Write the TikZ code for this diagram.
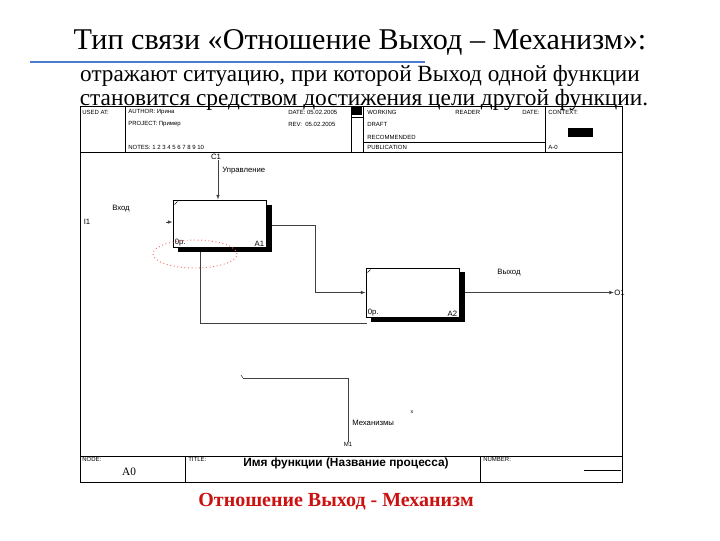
\documentclass[tikz,border=0pt]{standalone}
\usepackage{fontspec}
\setmainfont{Liberation Serif}
\newfontfamily\dsans{Liberation Sans}
\usetikzlibrary{arrows.meta,shapes.geometric}
\definecolor{bline}{HTML}{4A7CD6}
\definecolor{tred}{HTML}{CC1111}
\begin{document}
\begin{tikzpicture}[x=0.75pt,y=-0.75pt,
  hdr/.style={font=\dsans\fontsize{4.5}{5}\selectfont, anchor=west, inner sep=0},
  lbl/.style={font=\dsans\fontsize{5.8}{7}\selectfont, inner sep=0},
  fn/.style={draw, fill=white, line width=0.7pt, minimum width=69.75pt, inner sep=0},
  con/.style={draw=black!75, line width=0.45pt},
  arr/.style={con, -{Latex[length=3.5pt,width=2.6pt]}},
  frm/.style={line width=0.7pt}]
\useasboundingbox (0,0) rectangle (720,540);
% title
\node[font=\fontsize{22.6}{26}\selectfont] (title) at (360,42) {Тип связи «Отношение Выход – Механизм»:};
\coordinate (bl1) at (30,62); \coordinate (bl2) at (425,62);
\draw[bline, line width=2.2pt] (bl1) -- (bl2);
\node[font=\fontsize{17.4}{19}\selectfont] (s1) at (360,76) {отражают ситуацию, при которой Выход одной функции};
\node[font=\fontsize{17.5}{19}\selectfont] (s2) at (364,100) {становится средством достижения цели другой функции.};
% frame
\draw[frm] (80,106) rectangle (622,482);
% header
\draw[frm] (80,152) -- (622,152);
\draw[frm] (125,106) -- (125,152);
\draw[frm] (351,106) -- (351,152);
\draw[frm] (363,106) -- (363,152);
\draw[frm] (545,106) -- (545,152);
\draw[frm] (363,142) -- (545,142);
\draw[frm] (351,117) -- (363,117);
\fill (352,107) rectangle (362,115);
\fill (568,128) rectangle (593,137);
\node[hdr] (h1) at (82,112) {USED AT:};
\node[hdr] (h2) at (128,112) {AUTHOR: Ирина};
\node[hdr] (h3) at (128,124) {PROJECT: Пример};
\node[hdr] (h4) at (128,147) {NOTES:\ 1\ 2\ 3\ 4\ 5\ 6\ 7\ 8\ 9\ 10};
\node[hdr] (h5) at (288,112) {DATE: 05.02.2005};
\node[hdr] (h6) at (288,124) {REV:\ \ 05.02.2005};
\node[hdr] (h7) at (367,112) {WORKING};
\node[hdr] (h8) at (367,124) {DRAFT};
\node[hdr] (h9) at (367,137) {RECOMMENDED};
\node[hdr] (h10) at (367,147) {PUBLICATION};
\node[hdr] (h11) at (455,112) {READER};
\node[hdr] (h12) at (522,112) {DATE:};
\node[hdr] (h13) at (548,112) {CONTEXT:};
\node[hdr] (h14) at (548,147) {A-0};
% footer
\draw[frm] (80,456) -- (622,456);
\draw[frm] (185,456) -- (185,482);
\draw[frm] (480,456) -- (480,482);
\coordinate (nl1) at (584,470); \coordinate (nl2) at (621,470);
\draw[frm] (nl1) -- (nl2);
\node[hdr] (f1) at (82,459) {NODE:};
\node[hdr] (f2) at (188,459) {TITLE:};
\node[hdr] (f3) at (483,459) {NUMBER:};
\node[font=\fontsize{8.5}{10}\selectfont] (f4) at (129,472) {A0};
\node[font=\dsans\bfseries\fontsize{8.9}{10}\selectfont] (f5) at (346,463) {Имя функции (Название процесса)};
% boxes with shadows
\fill (178,205) rectangle (272,252);
\node[fn, minimum height=35.25pt] (A1) at (219.5,223.5) {};
\fill (371,272) rectangle (465,322);
\node[fn, minimum height=36.75pt] (A2) at (412.5,292.5) {};
\draw[line width=0.4pt] ([shift={(2,5)}]A1.north west) -- ++(3,-3);
\draw[line width=0.4pt] ([shift={(2,5)}]A2.north west) -- ++(3,-3);
\node[lbl, anchor=south west] (A1c) at ([shift={(2,-1)}]A1.south west) {0р.};
\node[lbl, anchor=south east] (A1n) at ([shift={(-2,-1)}]A1.south east) {A1};
\node[lbl, anchor=south west] (A2c) at ([shift={(2,-1)}]A2.south west) {0р.};
\node[lbl, anchor=south east] (A2n) at ([shift={(-2,-1)}]A2.south east) {A2};
% control
\node[lbl] (C1) at (216,157) {C1};
\draw[arr] (C1.south -| 218,0) -- (218,0 |- A1.north);
\node[lbl, anchor=west] (upr) at (222,171) {Управление};
% input
\node[lbl] (I1) at (87,222) {I1};
\node[lbl] (vx) at (121,209) {Вход};
\coordinate (inp) at (166,222);
\draw[arr] (inp) -- (inp -| A1.west);
% A1 output -> A2 input
\coordinate (a1o) at (272,225);
\coordinate (bend1) at (315,225);
\coordinate (bend2) at (315,292.5);
\draw[arr] (a1o) -- (bend1) -- (bend2) -- (A2.west);
% A1 bottom line
\coordinate (m1s) at (200,252);
\coordinate (m1b) at (200,323);
\coordinate (m1e) at (367,323);
\draw[con] (m1s) -- (m1b) -- (m1e);
% A2 output
\coordinate (a2o) at (465,292.5);
\node[lbl, anchor=west] (O1) at (614,292.5) {O1};
\draw[arr] (a2o) -- (O1.west);
\node[lbl] (vyx) at (509,273) {Выход};
% mechanism
\coordinate (mk1) at (243,378);
\coordinate (mk2) at (348,378);
\node[lbl, font=\dsans\fontsize{4.5}{5}\selectfont] (M1) at (348,444) {M1};
\draw[con] (mk1) -- (mk2) -- (M1.north);
\draw[con] (mk1) -- ++(-2,-3);
\node[lbl, anchor=west] (mex) at (352,423) {Механизмы};
\node[lbl, font=\dsans\fontsize{4}{5}\selectfont] (xx) at (412,412) {x};
% red ellipse
\node[draw=red!60, dotted, line width=0.7pt, ellipse, minimum width=63pt, minimum height=21pt, inner sep=0] (ell) at (195,254) {};
% bottom caption
\node[text=tred, font=\bfseries\fontsize{15}{18}\selectfont] (cap) at (336,502) {Отношение Выход - Механизм};
\end{tikzpicture}
\end{document}
